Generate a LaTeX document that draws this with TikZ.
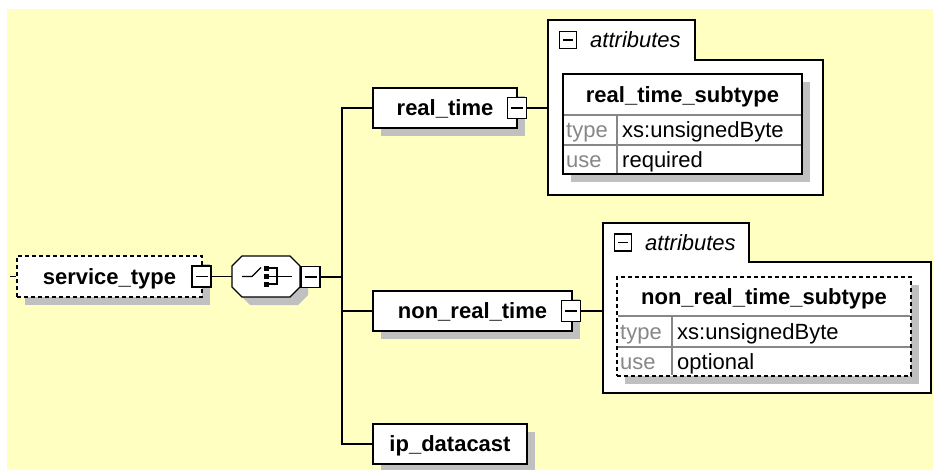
\documentclass[tikz,border=0pt]{standalone}
\usepackage{fontspec}
\setmainfont{Liberation Sans}
\usetikzlibrary{shadows}

\definecolor{xsdyellow}{RGB}{255,255,194}
\definecolor{xsdshadow}{RGB}{192,192,192}
\definecolor{xsdgray}{RGB}{135,135,135}

\newcommand{\xsdfont}{\fontsize{22pt}{26pt}\selectfont}

\tikzset{
	shadebox/.style={drop shadow={shadow xshift=8pt, shadow yshift=-8pt, fill=xsdshadow, opacity=1}},
	txt/.style={font=\xsdfont, inner sep=0pt, text height=15.7pt, text depth=0pt},
	elem/.style={txt, draw, line width=1.4pt, fill=white, font=\xsdfont\bfseries, shadebox},
	optelem/.style={elem, dash pattern=on 4pt off 3pt},
	collapse/.style={draw, line width=1.3pt, fill=white, inner sep=0pt,
		minimum width=19pt, minimum height=21pt,
		path picture={\draw[line width=1.3pt] ([xshift=3.5pt]path picture bounding box.west)
			-- ([xshift=-3.5pt]path picture bounding box.east);}},
	attrpart/.style={inner sep=0pt, outer sep=0pt},
	attrline/.style={draw, line width=1.4pt, fill=white},
	tbl/.style={draw, line width=1.4pt, fill=white, inner sep=0pt, outer sep=0pt, shadebox},
	opttbl/.style={tbl, dash pattern=on 4pt off 3pt},
	rowline/.style={xsdgray, line width=1.1pt},
	conn/.style={line width=1.3pt}
}

\begin{document}
\begin{tikzpicture}[x=1pt, y=-1pt]
	\useasboundingbox (0,0) rectangle (933,470);
	\fill[xsdyellow] (7,9) rectangle (933,470);
	
	%elementi
	\coordinate (stin) at (10,276.5);
	\node[optelem, minimum width=185pt, minimum height=41pt] (stype) at (109.5,276.5) {service\_type};
	\node[collapse] (stypesq) at (201.5,276.5) {};
	
	%sequenza
	\node[attrpart, minimum width=68pt, minimum height=41pt] (seq) at (266,276.5) {};
	\begin{scope}[shift={(seq.center)}, line width=1.3pt]
		\fill[xsdshadow] (-16,-12.5) -- (32,-12.5) -- (42,-2.5) -- (42,18.5) -- (32,28.5)
			-- (-16,28.5) -- (-26,18.5) -- (-26,-2.5) -- cycle;
		\draw[line width=1.4pt, fill=white] (-24,-20.5) -- (24,-20.5) -- (34,-10.5) -- (34,10.5)
			-- (24,20.5) -- (-24,20.5) -- (-34,10.5) -- (-34,-10.5) -- cycle;
		\draw (-24,0) -- (-14,0) -- (-5,-9);
		\fill (-2,-11) rectangle (3,-6);
		\fill (-2,-3) rectangle (3,2);
		\fill (-2,5) rectangle (3,10);
		\draw (3,-8.5) -- (11,-8.5) -- (11,7.5) -- (3,7.5);
		\draw (3,0) -- (26,0);
	\end{scope}
	\node[collapse] (seqsq) at (310.5,277) {};
	\coordinate (trunk) at (342,277);
	
	\node[elem, minimum width=144pt, minimum height=40pt] (rt) at (445,108) {real\_time};
	\node[collapse] (rtsq) at (517,108) {};
	\node[elem, minimum width=199pt, minimum height=40pt] (nrt) at (472.5,311) {non\_real\_time};
	\node[collapse] (nrtsq) at (571,311) {};
	\node[elem, minimum width=154pt, minimum height=40pt] (ipdc) at (450,444) {ip\_datacast};
	
	%attributi real_time
	\node[attrpart, minimum width=275pt, minimum height=135pt, anchor=north west] (rtattr) at (548,60) {};
	\node[attrpart, minimum width=147pt, minimum height=40pt, anchor=south west] (rttab) at (548,60) {};
	\draw[attrline] (rtattr.south west) |- (rttab.north east) |- (rtattr.north east)
		|- (rtattr.south west) -- cycle;
	\node[collapse, minimum width=17pt, minimum height=17pt] (rttabsq) at ([xshift=20pt]rttab.west) {};
	\node[txt, font=\xsdfont\itshape, anchor=west] (rttabtxt) at ([xshift=42pt]rttab.west) {attributes};
	
	\node[tbl, minimum width=239pt, minimum height=100pt, anchor=north west] (rtsub) at (563,74) {};
	\draw[rowline] (564,115) -- (801,115) (564,145) -- (801,145) (617,115) -- (617,173);
	\node[txt, font=\xsdfont\bfseries] (rtsubname) at (682.5,94.5) {real\_time\_subtype};
	\node[txt, anchor=west, text=xsdgray] (rttype) at (566,130) {type};
	\node[txt, anchor=west] (rttypeval) at (622,130) {xs:unsignedByte};
	\node[txt, anchor=west, text=xsdgray] (rtuse) at (566,159.5) {use};
	\node[txt, anchor=west] (rtuseval) at (622,159.5) {required};
	
	%attributi non_real_time
	\node[attrpart, minimum width=328pt, minimum height=131pt, anchor=north west] (nrtattr) at (603,262) {};
	\node[attrpart, minimum width=146pt, minimum height=39pt, anchor=south west] (nrttab) at (603,262) {};
	\draw[attrline] (nrtattr.south west) |- (nrttab.north east) |- (nrtattr.north east)
		|- (nrtattr.south west) -- cycle;
	\node[collapse, minimum width=17pt, minimum height=17pt] (nrttabsq) at ([xshift=20pt]nrttab.west) {};
	\node[txt, font=\xsdfont\itshape, anchor=west] (nrttabtxt) at ([xshift=42pt]nrttab.west) {attributes};
	
	\node[opttbl, minimum width=294pt, minimum height=99pt, anchor=north west] (nrtsub) at (617,277) {};
	\draw[rowline] (618,316) -- (910,316) (618,347) -- (910,347) (672,316) -- (672,375);
	\node[txt, font=\xsdfont\bfseries] (nrtsubname) at (764,296.5) {non\_real\_time\_subtype};
	\node[txt, anchor=west, text=xsdgray] (nrttype) at (620,331.5) {type};
	\node[txt, anchor=west] (nrttypeval) at (677,331.5) {xs:unsignedByte};
	\node[txt, anchor=west, text=xsdgray] (nrtuse) at (620,361.5) {use};
	\node[txt, anchor=west] (nrtuseval) at (677,361.5) {optional};
	
	%collegamenti
	\draw[conn] (stin) -- (stype.west);
	\draw[conn] (stypesq.east) -- (seq.west);
	\draw[conn] (seqsq.east) -- (trunk);
	\draw[conn] (rt.west) -| (trunk) |- (ipdc.west);
	\draw[conn] (nrt.west) -- (nrt.west -| trunk);
	\draw[conn] (rtsq.east) -- (rtsq.east -| rtattr.west);
	\draw[conn] (nrtsq.east) -- (nrtsq.east -| nrtattr.west);
\end{tikzpicture}
\end{document}
